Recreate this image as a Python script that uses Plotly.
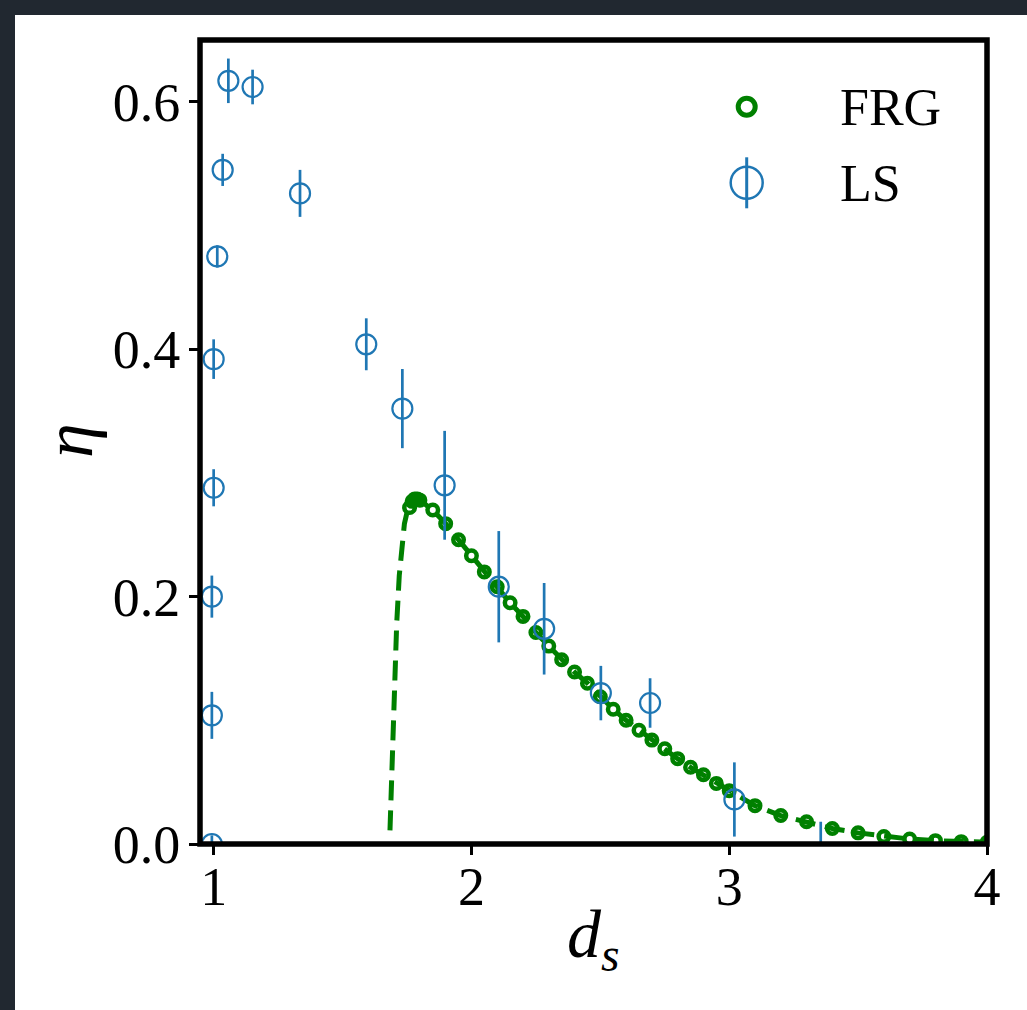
import plotly.graph_objects as go

# ---------------- data ----------------
# LS (open circles with error bars)
ls_x = [0.993, 0.993, 0.993, 1.000, 1.000, 1.014, 1.035, 1.057, 1.151, 1.335,
        1.592, 1.732, 1.896, 2.106, 2.282, 2.502, 2.693, 3.020, 3.355]
ls_y = [0.000, 0.104, 0.200, 0.288, 0.392, 0.475, 0.545, 0.617, 0.612, 0.526,
        0.404, 0.352, 0.290, 0.208, 0.174, 0.122, 0.114, 0.036, -0.012]
ls_err = [0.007, 0.019, 0.017, 0.015, 0.016, 0.009, 0.013, 0.018, 0.014, 0.019,
          0.021, 0.032, 0.044, 0.045, 0.037, 0.022, 0.020, 0.030, 0.030]

# FRG markers
frg_x = [1.76, 1.77, 1.78, 1.79, 1.80, 1.85, 1.90, 1.95, 2.00, 2.05, 2.10, 2.15,
         2.20, 2.25, 2.30, 2.35, 2.40, 2.45, 2.50, 2.55, 2.60, 2.65, 2.70, 2.75,
         2.80, 2.85, 2.90, 2.95, 3.00, 3.10, 3.20, 3.30, 3.40, 3.50, 3.60, 3.70,
         3.80, 3.90, 4.00]
frg_y = [0.272, 0.277, 0.279, 0.279, 0.278, 0.270, 0.259, 0.246, 0.233, 0.220,
         0.208, 0.195, 0.184, 0.171, 0.160, 0.149, 0.139, 0.130, 0.119, 0.109,
         0.100, 0.092, 0.084, 0.077, 0.069, 0.062, 0.056, 0.049, 0.043, 0.031,
         0.023, 0.018, 0.0125, 0.009, 0.006, 0.004, 0.0027, 0.0019, 0.0014]

# FRG dashed curve
curve_x = [1.684, 1.690, 1.700, 1.710, 1.720, 1.730, 1.740, 1.750] + frg_x
curve_y = [0.011, 0.053, 0.122, 0.178, 0.217, 0.241, 0.259, 0.268] + frg_y

x_ticks = [1, 2, 3, 4]
y_ticks = [0.0, 0.2, 0.4, 0.6]

# ---------------- layout helpers ----------------
W, H = 1027, 1010
L, R, T, B = 200, 987, 40, 844
PW, PH = R - L, B - T


def px(xp):
    return (xp - L) / PW


def py(yp):
    return (B - yp) / PH


FONT = "Liberation Serif"
GREEN = "#008000"
BLUE = "#1f77b4"
DARK = "#212830"

fig = go.Figure()

fig.add_trace(go.Scatter(
    x=curve_x, y=curve_y, mode="lines",
    line=dict(color=GREEN, width=5, dash="20px,10px"),
    showlegend=False, hoverinfo="skip"))

fig.add_trace(go.Scatter(
    x=frg_x, y=frg_y, mode="markers", name="FRG",
    marker=dict(symbol="circle-open", size=10.5, color=GREEN,
                line=dict(width=4.5, color=GREEN)),
    showlegend=False))

fig.add_trace(go.Scatter(
    x=ls_x, y=ls_y, mode="markers", name="LS",
    marker=dict(symbol="circle-open", size=20, color=BLUE,
                line=dict(width=2.2, color=BLUE)),
    error_y=dict(type="data", array=ls_err, visible=True, thickness=2.7,
                 width=0, color=BLUE),
    showlegend=False))

axis_common = dict(showgrid=False, zeroline=False, showline=False,
                   ticks="outside", ticklen=10, tickwidth=2.5, tickcolor="black",
                   tickfont=dict(family=FONT, size=54, color="black"))

fig.update_xaxes(range=[0.947, 4.0], tickvals=x_ticks, tickformat="d",
                 ticklabelstandoff=-15, **axis_common)
fig.update_yaxes(range=[0.0, 0.65], tickvals=y_ticks, tickformat=".1f",
                 ticklabelstandoff=-2, **axis_common)

shapes = [
    # white figure region over dark page background
    dict(type="rect", xref="paper", yref="paper", layer="below",
         x0=px(15), x1=px(W + 5), y0=py(H + 5), y1=py(15),
         fillcolor="white", line=dict(width=0)),
    # axes frame
    dict(type="rect", xref="paper", yref="paper", layer="above",
         x0=0, x1=1, y0=0, y1=1, line=dict(color="black", width=5.5)),
    # legend: FRG symbol
    dict(type="circle", xref="paper", yref="paper", layer="above",
         xsizemode="pixel", ysizemode="pixel",
         xanchor=px(746.7), yanchor=py(106.7),
         x0=-8.5, x1=8.5, y0=-8.5, y1=8.5,
         line=dict(color=GREEN, width=5)),
    # legend: LS symbol
    dict(type="circle", xref="paper", yref="paper", layer="above",
         xsizemode="pixel", ysizemode="pixel",
         xanchor=px(746.7), yanchor=py(182.7),
         x0=-16, x1=16, y0=-16, y1=16,
         line=dict(color=BLUE, width=2.5)),
    dict(type="line", xref="paper", yref="paper", layer="above",
         x0=px(746.7), x1=px(746.7), y0=py(157.3), y1=py(208.3),
         line=dict(color=BLUE, width=3)),
]

annotations = [
    dict(text="<i>d</i><sub><i>s</i></sub>", xref="paper", yref="paper",
         x=0.5, y=py(938), xanchor="center", yanchor="middle",
         showarrow=False, font=dict(family=FONT, size=68, color="black")),
    dict(text="<i>η</i>", xref="paper", yref="paper",
         x=px(68), y=py(441), xanchor="center", yanchor="middle",
         textangle=-90, showarrow=False,
         font=dict(family=FONT, size=70, color="black")),
    dict(text="FRG", xref="paper", yref="paper",
         x=px(838), y=py(108), xanchor="left", yanchor="middle",
         showarrow=False, font=dict(family=FONT, size=52, color="black")),
    dict(text="LS", xref="paper", yref="paper",
         x=px(838), y=py(183), xanchor="left", yanchor="middle",
         showarrow=False, font=dict(family=FONT, size=52, color="black")),
]

fig.update_layout(
    width=W, height=H,
    margin=dict(l=L, r=W - R, t=T, b=H - B, pad=0),
    paper_bgcolor=DARK, plot_bgcolor="white",
    shapes=shapes, annotations=annotations,
    showlegend=False,
)

fig.write_html(
    "out.html",
    config={"displayModeBar": False},
    post_script="document.body.style.margin='0px';"
                "document.body.style.background='" + DARK + "';",
)
